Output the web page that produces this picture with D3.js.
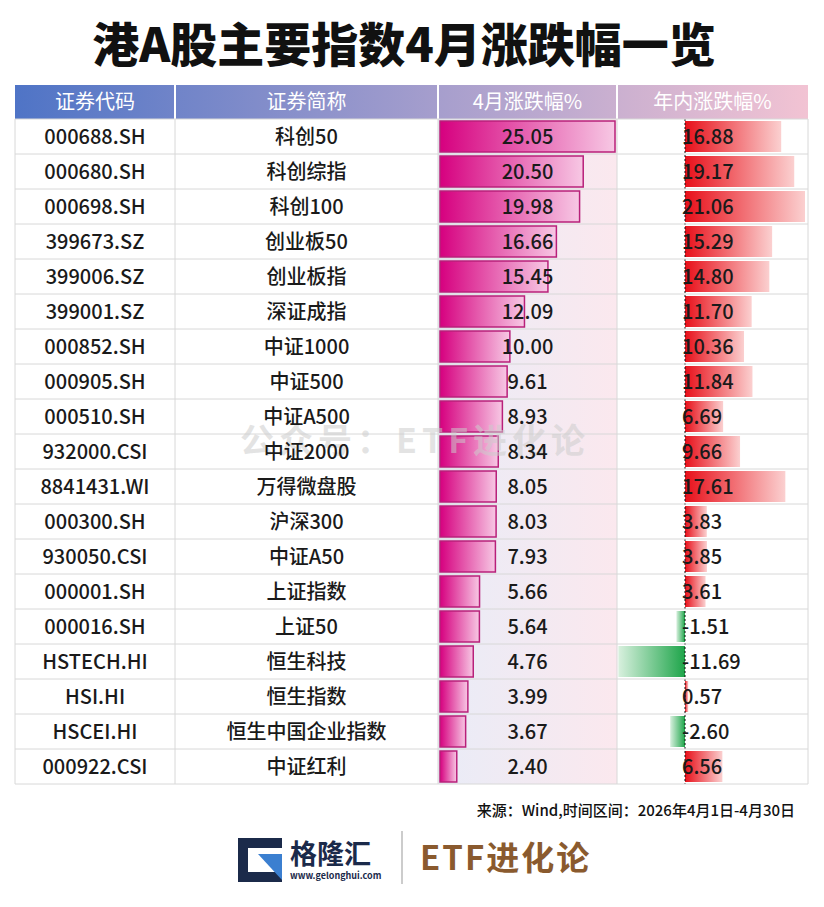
<!DOCTYPE html>
<html><head><meta charset="utf-8">
<script src="https://cdn.jsdelivr.net/npm/d3@7"></script>
<style>body{margin:0;background:#fff}svg{display:block}text{font-family:"Noto Sans CJK SC","Noto Sans",sans-serif}</style>
</head><body>
<svg id="c" width="824" height="907"></svg>
<script>
const codes=["000688.SH","000680.SH","000698.SH","399673.SZ","399006.SZ","399001.SZ","000852.SH","000905.SH","000510.SH","932000.CSI","8841431.WI","000300.SH","930050.CSI","000001.SH","000016.SH","HSTECH.HI","HSI.HI","HSCEI.HI","000922.CSI"];
const names=["科创50","科创综指","科创100","创业板50","创业板指","深证成指","中证1000","中证500","中证A500","中证2000","万得微盘股","沪深300","中证A50","上证指数","上证50","恒生科技","恒生指数","恒生中国企业指数","中证红利"];
const april=[25.05,20.50,19.98,16.66,15.45,12.09,10.00,9.61,8.93,8.34,8.05,8.03,7.93,5.66,5.64,4.76,3.99,3.67,2.40];
const ytd=[16.88,19.17,21.06,15.29,14.80,11.70,10.36,11.84,6.69,9.66,17.61,3.83,3.85,3.61,-1.51,-11.69,0.57,-2.60,6.56];
const headers=["证券代码","证券简称","4月涨跌幅%","年内涨跌幅%"];

const svg=d3.select("#c");
const defs=svg.append("defs");
function grad(id,stops,x2="100%"){const g=defs.append("linearGradient").attr("id",id).attr("x1","0%").attr("x2",x2);
 stops.forEach(s=>g.append("stop").attr("offset",s[0]).attr("stop-color",s[1]).attr("stop-opacity",s[2]??1));}
grad("hdr",[["0%","#4f74c6"],["100%","#f2c3d3"]]);
grad("mag",[["0%","#d6007f"],["100%","#f7c8e4"]]);
grad("red",[["0%","#e8101a"],["100%","#fbd0d0"]]);
const gg=defs.append("linearGradient").attr("id","grn").attr("x1","100%").attr("x2","0%");
gg.append("stop").attr("offset","0%").attr("stop-color","#1ea54a");gg.append("stop").attr("offset","100%").attr("stop-color","#d8f0de");
grad("colbg",[["0%","#e9ecf7"],["100%","#fbe8ee"]]);

const cols=[15,175,438,617,808];
const topY=85,hh=34,rowH=35;
const y=d3.scaleBand().domain(d3.range(codes.length)).range([topY+hh,topY+hh+rowH*codes.length]);
const xa=d3.scaleLinear().domain([0,25.05]).range([440,615]);
const xy=d3.scaleLinear().domain([0,21.06]).range([685,805]);

svg.append("text").attr("x",404).attr("y",62).attr("text-anchor","middle").attr("font-size",47).attr("font-weight",900).attr("fill","#111").text("港A股主要指数4月涨跌幅一览");

svg.append("rect").attr("x",cols[0]).attr("y",topY).attr("width",cols[4]-cols[0]).attr("height",hh).attr("fill","url(#hdr)");
headers.forEach((h,i)=>{
 svg.append("text").attr("x",(cols[i]+cols[i+1])/2).attr("y",topY+hh/2+7).attr("text-anchor","middle").attr("font-size",20).attr("fill","#fff").text(h);
 if(i>0) svg.append("line").attr("x1",cols[i]).attr("x2",cols[i]).attr("y1",topY).attr("y2",topY+hh).attr("stroke","#fff").attr("stroke-width",2);
});
const y0=topY+hh,y1=y.range()[1];
svg.append("rect").attr("x",cols[2]).attr("y",y0).attr("width",cols[3]-cols[2]).attr("height",y1-y0).attr("fill","url(#colbg)");

const rows=svg.append("g");
rows.selectAll(".ab").data(april).join("rect").attr("x",xa(0)).attr("y",(d,i)=>y(i)+2).attr("width",d=>xa(d)-xa(0)).attr("height",rowH-4)
 .attr("fill","url(#mag)").attr("stroke","#b8207a").attr("stroke-width",1.5);
rows.selectAll(".yb").data(ytd).join("rect").attr("x",d=>d>=0?xy(0):xy(d)).attr("y",(d,i)=>y(i)+2).attr("width",d=>Math.abs(xy(d)-xy(0))).attr("height",rowH-4)
 .attr("fill",d=>d>=0?"url(#red)":"url(#grn)");
svg.append("line").attr("x1",xy(0)).attr("x2",xy(0)).attr("y1",y0).attr("y2",y1).attr("stroke","#111").attr("stroke-dasharray","2,2");

d3.range(codes.length+1).forEach(i=>svg.append("line").attr("x1",cols[0]).attr("x2",cols[4]).attr("y1",y0+i*rowH).attr("y2",y0+i*rowH).attr("stroke","#d8d8d8"));
cols.forEach(c=>svg.append("line").attr("x1",c).attr("x2",c).attr("y1",y0).attr("y2",y1).attr("stroke","#d8d8d8"));

svg.append("text").attr("x",415).attr("y",453).attr("text-anchor","middle").attr("font-size",34).attr("font-weight",700).attr("fill","#ccc").attr("fill-opacity",0.55).attr("letter-spacing",5).text("公众号：ETF进化论");

const fs=20;
const tx=(arr,xf,fmt)=>svg.append("g").selectAll("text").data(arr).join("text").attr("x",xf).attr("y",(d,k)=>y(k)+rowH/2+7).attr("text-anchor","middle").attr("font-size",fs).attr("font-weight",500).attr("fill","#1a1a1a").text(fmt);
tx(codes,(cols[0]+cols[1])/2,d=>d);
tx(names,(cols[1]+cols[2])/2,d=>d);
tx(april,(cols[2]+cols[3])/2,d=>d.toFixed(2));
svg.append("g").selectAll("text").data(ytd).join("text").attr("x",xy(0)-3).attr("y",(d,k)=>y(k)+rowH/2+7).attr("font-size",fs).attr("font-weight",500).attr("fill","#1a1a1a").text(d=>d.toFixed(2));

svg.append("text").attr("x",795).attr("y",816).attr("text-anchor","end").attr("font-size",15).attr("font-weight",500).attr("fill","#111").text("来源：Wind,时间区间：2026年4月1日-4月30日");

const lg=svg.append("g");
lg.append("path").attr("d","M238,838 h44 v10 h-34 v24 h34 v10 h-44 z").attr("fill","#1b2a4a");
lg.append("path").attr("d","M258,854 h24 v26 z").attr("fill","#3b7fd0");
lg.append("text").attr("x",290).attr("y",864).attr("font-size",27).attr("font-weight",700).attr("fill","#1b2a4a").text("格隆汇");
lg.append("text").attr("x",290).attr("y",879).attr("font-size",9).attr("font-weight",700).attr("fill","#1b2a4a").text("www.gelonghui.com");
lg.append("line").attr("x1",402).attr("x2",402).attr("y1",831).attr("y2",884).attr("stroke","#999");
lg.append("text").attr("x",420).attr("y",870).attr("font-size",33).attr("font-weight",700).attr("fill","#8a5a2e").attr("letter-spacing",2).text("ETF进化论");
</script></body></html>
